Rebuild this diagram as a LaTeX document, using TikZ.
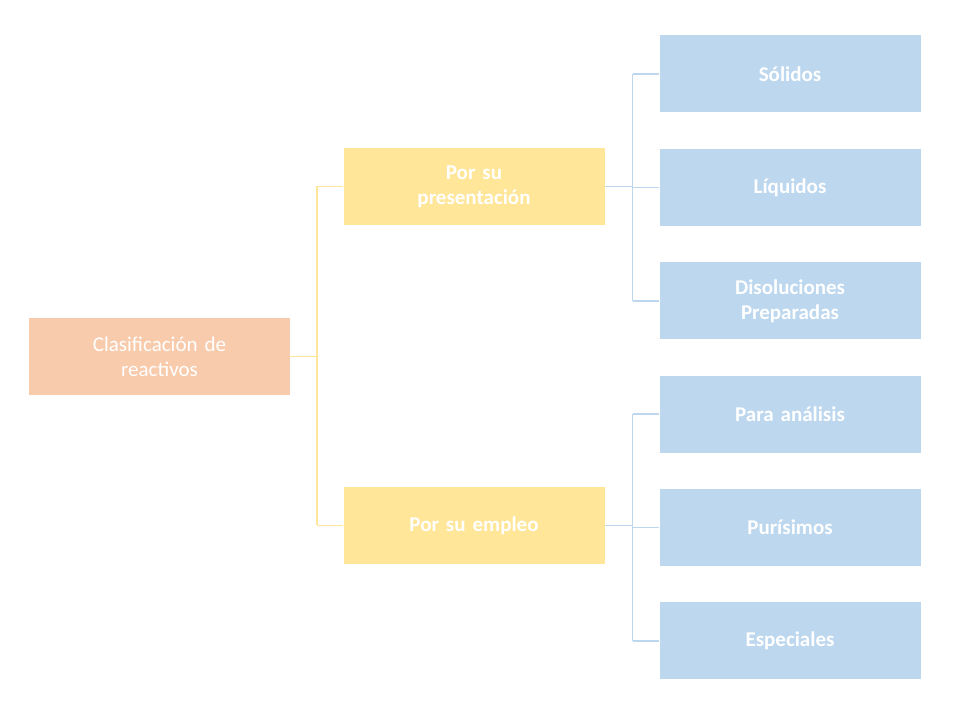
\documentclass[tikz,border=0pt]{standalone}
\usepackage{fontspec}
\setmainfont{Carlito}
\usetikzlibrary{positioning}
\definecolor{rootc}{HTML}{F8CBAD}
\definecolor{midc}{HTML}{FFE699}
\definecolor{leafc}{HTML}{BDD7EE}
\tikzset{
  box/.style={minimum width=261pt, minimum height=77pt, inner sep=2pt, align=center,
    text=white, font=\fontsize{21}{25}\selectfont\bfseries, text width=240pt},
  rootbox/.style={box, fill=rootc, font=\fontsize{21}{25}\selectfont},
  midbox/.style={box, fill=midc},
  leafbox/.style={box, fill=leafc},
  ylink/.style={draw=midc, line width=1.5pt},
  blink/.style={draw=leafc, line width=1.5pt}
}
\begin{document}
\begin{tikzpicture}[x=1pt,y=1pt]
\useasboundingbox (0,0) rectangle (957,719);

\node[rootbox] (root) at (159.5,362.5) {Clasificación de\\reactivos};
\node[midbox] (pres) at (474,532.5) {Por su\\presentación};
\node[midbox] (empl) at (474,193.5) {Por su empleo};

\node[leafbox] (sol) at (790,645) {Sólidos};
\node[leafbox, below=36pt of sol] (liq) {Líquidos};
\node[leafbox, below=36pt of liq] (dis) {Disoluciones\\Preparadas};
\node[leafbox, below=36pt of dis] (ana) {Para análisis};
\node[leafbox, below=36pt of ana] (pur) {Purísimos};
\node[leafbox, below=36pt of pur] (esp) {Especiales};

% connectors from the root
\coordinate (rj) at ([xshift=27pt]root.east);
\draw[ylink] (root.east) -- (rj);
\draw[ylink] (pres.west -| rj) -- (empl.west -| rj);
\foreach \m in {pres,empl}
  \draw[ylink] (\m.west -| rj) -- (\m.west);

% connectors from the middle boxes
\foreach \m/\a/\b/\c in {pres/sol/liq/dis, empl/ana/pur/esp} {
  \coordinate (mj) at ([xshift=28pt]\m.east);
  \draw[blink] (\m.east) -- (mj);
  \draw[blink] (\a.west -| mj) -- (\c.west -| mj);
  \foreach \l in {\a,\b,\c}
    \draw[blink] (\l.west -| mj) -- (\l.west);
}
\end{tikzpicture}
\end{document}
